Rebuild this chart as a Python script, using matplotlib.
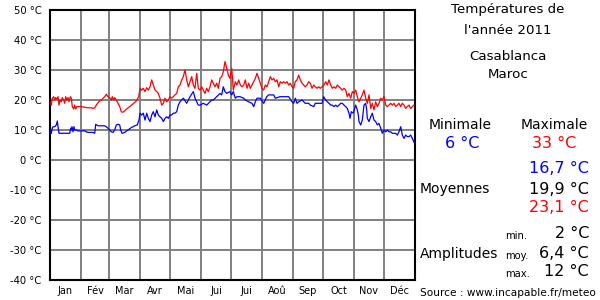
import matplotlib
matplotlib.use("Agg")
import matplotlib.pyplot as plt

plt.rcParams['font.family'] = ['DejaVu Sans']

# ---- data (day of year, °C) ----
max_days = [0.7, 1.3, 2.3, 3.7, 4.7, 5.7, 7, 8, 9, 10, 11.3, 12.3, 13.7, 14.7, 15.7, 17, 18, 19, 20.3, 21.3,
            22.3, 23.7, 24.7, 25.7, 26.7, 28, 31.3, 34.7, 38, 41.3, 43, 44.7, 46.3, 48, 49.7, 51.3, 53, 54.7,
            56.3, 58, 59.7, 61.3, 62.3, 63.7, 64.7, 66.3, 68, 69.7, 71.3, 73, 76.3, 79.7, 83, 86.3, 88.7,
            90, 91.7, 93.3, 95, 96.7, 98.3, 100, 101.7, 103.3, 105, 106.7, 108.3, 110, 111.7, 113.3, 115,
            116.7, 118.3, 120, 121.7, 123.3, 125, 126.7, 128.3, 130, 131.7, 133.3, 135, 136.7, 138.3, 140,
            141.7, 143.3, 145, 146.7, 148.3, 150, 151.7, 153.3, 155, 156.7, 158.3, 160, 161.7, 163.3, 165,
            166.7, 168.3, 170, 171.7, 173.3, 175, 176.7, 178.3, 180, 181.7, 183.3, 185.3, 187, 188.7,
            190.3, 192, 193.7, 195.3, 197, 198.7, 200.3, 202, 203.7, 205.3, 207, 208.7, 210.3, 212, 213.7,
            215.3, 217, 218.7, 220.3, 222, 223.7, 225.3, 227, 228.7, 230.3, 232, 233.7, 235.3, 237, 238.7,
            240.3, 242, 243.7, 245.3, 247, 248.7, 250.3, 252, 253.7, 255.3, 257, 258.7, 260.3, 262, 263.7,
            265.3, 267, 268.7, 270.3, 272, 274, 275.7, 277.3, 279, 280.7, 282.3, 284, 285.7, 287.3, 289,
            290.7, 292.3, 294, 295.7, 297.3, 299, 300.7, 302.3, 304, 305.7, 307.3, 309, 310.7, 312.3, 314,
            315.7, 317.3, 319, 320.7, 322.3, 324, 325.7, 327.3, 329, 330.7, 332.3, 334, 335.7, 337.3, 339,
            340.7, 342.3, 344, 345.7, 347.3, 349, 350.7, 352.3, 354, 355.7, 357.3, 359, 360.7, 362.3, 364]
max_vals = [19.4, 18.3, 20.6, 21.1, 20.0, 20.8, 20.3, 21.1, 18.3, 20.0, 19.4, 20.8, 20.0, 18.9, 21.1, 20.0,
            20.8, 19.4, 21.1, 20.6, 17.8, 17.0, 18.3, 17.0, 17.8, 17.8, 17.8, 17.6, 17.4, 17.4, 17.2, 17.4,
            18.3, 19.1, 19.7, 20.0, 20.6, 21.1, 21.9, 21.1, 20.8, 20.0, 21.1, 20.0, 20.8, 20.0, 18.9, 17.8,
            16.1, 15.9, 16.9, 17.8, 18.7, 19.7, 21.1,
            23.9, 23.3, 23.9, 22.8, 24.1, 23.3, 24.4, 26.7, 25.0, 23.3, 22.8, 22.2, 20.6, 18.3, 18.9, 20.6,
            19.4, 20.0, 21.1, 20.6, 21.1, 21.7, 22.2, 24.4, 25.0, 26.7, 27.8, 30.0, 26.7, 24.4, 26.1,
            27.8, 25.0, 23.9, 28.9, 23.9, 23.3, 24.4, 23.3, 22.2, 23.9, 22.8, 24.4, 26.7, 25.6, 24.4,
            25.6, 23.9, 27.2, 27.8, 29.4, 32.8, 30.6, 28.3, 27.2, 30.6, 23.3, 26.1, 25.0, 26.7,
            25.0, 24.4, 25.0, 26.7, 23.9, 25.6, 23.9, 25.0, 26.1, 27.2, 28.9, 27.2, 25.6, 23.9, 23.3,
            25.0, 24.4, 26.1, 27.8, 26.7, 27.2, 26.1, 26.7, 24.4, 26.1, 25.6, 26.1, 25.6, 26.1, 25.0,
            25.6, 24.4, 23.9, 26.1, 26.7, 28.3, 26.7, 25.6, 25.0, 24.4, 25.0, 26.1, 25.6, 23.9, 25.0,
            24.4, 23.9, 24.4, 23.9, 24.4, 25.0, 26.1, 25.0, 26.7, 25.0, 23.9, 24.4, 23.9, 25.0, 24.4,
            23.9, 23.3, 23.9, 23.3, 21.1, 22.2, 20.6, 22.8, 22.2, 23.3, 21.1, 19.4, 20.6, 21.7, 23.3,
            20.6, 18.9, 21.7, 17.2, 18.9, 16.7, 19.4, 17.8, 18.9, 20.6, 20.0, 21.1, 18.3, 17.8, 18.3,
            18.9, 18.3, 18.9, 17.8, 18.3, 18.9, 17.8, 18.9, 18.3, 17.2, 17.8, 18.3, 17.2, 17.8, 18.3]

min_days = [0.7, 1.3, 2.3, 3, 4.7, 6.3, 7.3, 8, 9, 11.3, 14.7, 18, 19.7, 20.7, 21.3, 22, 23, 24, 24.7, 26.3,
            28, 31.3, 34.7, 36.3, 38, 43, 44.7, 45.7, 48, 51.3, 54.7, 56.3, 58, 59.7, 61.3, 63, 64.7, 66.3,
            68, 69.7, 70.7, 72, 74.7, 78, 81.3, 84.7, 87.3, 89,
            90, 91.7, 93.3, 95, 96.7, 98.3, 100, 101.7, 103.3, 105, 106.7, 108.3, 110, 111.7, 113.3, 115,
            116.7, 118.3, 120, 121.7, 123.3, 125, 126.7, 128.3, 130, 133.3, 136.7, 140, 143.3, 145, 146.7,
            148.3, 150, 153.3, 156.7, 160, 161.7, 163.3, 166.7, 170, 171.7, 173.3, 175, 176.7, 180, 181.7,
            183.3, 185.3, 187, 190, 193.7, 195.3, 198.7, 202, 203.7, 205.3, 207, 210.3, 213.7, 216.7, 218.7,
            223.7, 225.3, 230, 234, 238.7, 242, 243.7, 245.3, 247, 248.7, 252, 255.3, 258.7, 260.3, 263.7,
            265.3, 267, 272, 273.7,
            275.7, 277.3, 279, 280.7, 282.3, 284, 285.7, 287.3, 289, 290.7, 292.3, 294, 295.7, 297.3, 299,
            300, 301.3, 303.3, 304.7, 305.7, 307.3, 308.3, 309, 310.7, 312.3, 314, 315.7, 316.7, 317.3, 319,
            320.7, 322.3, 324, 325.7, 327.3, 329, 330.7, 332.3, 334, 335.7, 337.3, 339, 340.7, 342.3, 344,
            345.7, 347.3, 349, 350.7, 352.3, 354, 355.7, 357.3, 359, 360.7, 362.3, 364]
min_vals = [10.0, 8.9, 10.6, 11.1, 11.1, 11.7, 13.0, 11.1, 8.9, 8.9, 8.9, 8.9, 8.9, 10.6, 10.0, 11.1, 9.4,
            11.1, 10.0, 10.0, 9.7, 9.7, 9.7, 9.4, 9.2, 9.2, 8.9, 11.9, 11.4, 11.4, 11.4, 11.1, 10.6, 10.0,
            9.4, 9.2, 10.0, 11.7, 11.9, 11.7, 10.0, 8.9, 9.2, 10.0, 10.8, 11.4, 11.7, 13.3,
            15.6, 15.0, 15.6, 13.3, 15.6, 13.9, 12.8, 15.0, 16.1, 14.4, 16.7, 15.0, 14.4, 13.9, 12.8, 13.9,
            14.4, 13.9, 15.0, 15.0, 15.6, 15.6, 16.1, 18.3, 19.4, 20.6, 18.9, 21.1, 22.8, 20.6, 19.4,
            18.3, 18.3, 18.9, 18.3, 19.4, 20.0, 20.0, 21.1, 22.2, 21.7, 24.4, 22.8, 22.2, 22.8, 21.7,
            22.8, 20.6, 21.1, 21.1, 20.6, 20.0, 19.4, 18.9, 17.8, 19.4, 20.6, 20.6, 18.9, 21.1, 21.7,
            21.7, 20.6, 21.1, 21.1, 21.1, 19.4, 18.9, 20.6, 18.9, 19.4, 20.0, 18.9, 18.9, 18.3, 17.8,
            18.9, 18.9, 18.9, 21.1,
            20.0, 19.4, 18.9, 18.3, 18.3, 17.8, 18.3, 17.8, 18.3, 18.9, 18.9, 18.3, 17.8, 17.2, 15.6,
            13.9, 16.1, 15.6, 17.2, 18.3, 16.7, 15.0, 12.8, 11.7, 13.3, 18.3, 18.9, 16.7, 13.9, 12.8,
            14.4, 15.6, 13.3, 12.8, 11.7, 12.2, 10.6, 8.9, 10.0, 9.4, 10.0, 9.4, 9.4, 8.9, 8.9,
            8.9, 8.3, 9.4, 11.1, 8.3, 7.2, 8.3, 7.8, 7.8, 8.3, 7.2, 5.9]

month_ends = [31, 59, 90, 120, 151, 181, 212, 243, 273, 304, 334]
month_labels = ['Jan', 'Fév', 'Mar', 'Avr', 'Mai', 'Jui', 'Jui', 'Aoû', 'Sep', 'Oct', 'Nov', 'Déc']
y_ticks = [-40, -30, -20, -10, 0, 10, 20, 30, 40, 50]

# ---- figure ----
W, H = 600, 300
fig = plt.figure(figsize=(6, 3), dpi=100)
ax = fig.add_axes([50 / W, 1 - 280 / H, 365 / W, 270 / H])
ax.set_xlim(0, 365)
ax.set_ylim(-40, 50)

for d in month_ends:
    ax.axvline(d, color='#808080', lw=1.4, zorder=1)
for t in y_ticks[1:-1]:
    ax.axhline(t, color='#808080', lw=1.4, zorder=1)

ax.plot(max_days, max_vals, color='#ff0000', lw=0.9, zorder=3)
ax.plot(min_days, min_vals, color='#0000ff', lw=0.9, zorder=3)

for s in ax.spines.values():
    s.set_color('black')
    s.set_linewidth(1.5)

ax.set_yticks(y_ticks)
ax.set_yticklabels([f'{t} °C' for t in y_ticks], fontsize=7.2)
starts = [0] + month_ends
ends = month_ends + [365]
ax.set_xticks([(a + b) / 2 for a, b in zip(starts, ends)])
ax.set_xticklabels(month_labels, fontsize=7.0)
ax.tick_params(length=0, pad=6)
ax.tick_params(axis='x', pad=4)


def txt(x, y, s, size=10, color='black', ha='center'):
    fig.text(x / W, 1 - y / H, s, fontsize=size, color=color, ha=ha, va='center')


txt(508, 10, 'Températures de', 9.6)
txt(508, 30, "l'année 2011", 9.6)
txt(508, 56, 'Casablanca', 9.6)
txt(508, 75, 'Maroc', 9.6)

txt(460, 125, 'Minimale', 10)
txt(554, 125, 'Maximale', 10)
txt(462, 143, '6 °C', 11.5, '#0000ff')
txt(554, 143, '33 °C', 11.5, '#ff0000')

txt(589, 168, '16,7 °C', 11.5, '#0000ff', 'right')
txt(589, 189, '19,9 °C', 11.5, 'black', 'right')
txt(589, 208, '23,1 °C', 11.5, '#ff0000', 'right')
txt(420, 189, 'Moyennes', 10, ha='left')

txt(505, 236, 'min.', 7.2, ha='left')
txt(505, 256, 'moy.', 7.2, ha='left')
txt(505, 274, 'max.', 7.2, ha='left')
txt(589, 234, '2 °C', 11.5, ha='right')
txt(589, 254, '6,4 °C', 11.5, ha='right')
txt(589, 272, '12 °C', 11.5, ha='right')
txt(420, 254, 'Amplitudes', 10, ha='left')

txt(420, 293, 'Source : www.incapable.fr/meteo', 7.6, ha='left')

fig.savefig('out.png', dpi=100)
